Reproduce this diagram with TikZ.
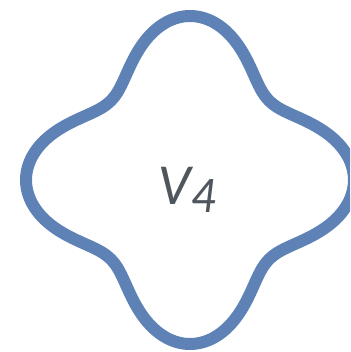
\documentclass[tikz,border=0pt]{standalone}
\usepackage{fontspec}
\setmainfont{Lato}
\definecolor{lobeblue}{HTML}{5E82B6}
\definecolor{labelgray}{HTML}{50565E}
\tikzset{lobe/.style={lobeblue, line width=12pt}}
\begin{document}
\begin{tikzpicture}[x=1pt, y=-1pt]
    % Frame
    \useasboundingbox (0,0) rectangle (350,352);
    \clip (0,0) rectangle (350,352);

    % Four-lobed outline: r = 138 + 26 cos(4t)
    \draw[lobe] plot[domain=0:358.2, samples=200, smooth cycle]
        ({190+(138+26*cos(4*\x))*cos(\x)}, {180+(138+26*cos(4*\x))*sin(\x)});

    % Label
    \node[text=labelgray, inner sep=0pt] (label) at (188,190)
        {\fontsize{52}{52}\selectfont\itshape V\raisebox{-8pt}{\fontsize{46}{46}\selectfont 4}};
\end{tikzpicture}
\end{document}
